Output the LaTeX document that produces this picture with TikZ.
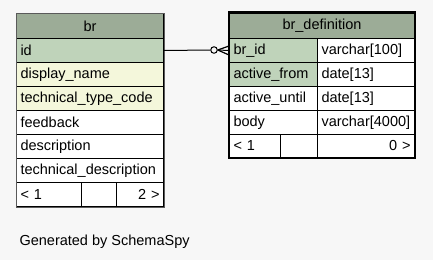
\documentclass[tikz,border=0pt]{standalone}
\usepackage{fontspec}
\setmainfont{Liberation Sans}
\usetikzlibrary{positioning}

\definecolor{bgcol}{HTML}{F7F7F7}
\definecolor{headcol}{HTML}{9CAC97}
\definecolor{keycol}{HTML}{BFD3BA}
\definecolor{idxcol}{HTML}{F4F7DB}
\definecolor{edgecol}{HTML}{5A5A5A}

\tikzset{
  cell/.style={draw=black, line width=1pt, fill=white, anchor=north west,
    inner xsep=4pt, inner ysep=0pt, minimum height=24pt, align=left,
    font=\fontsize{14.5}{16}\selectfont},
  head/.style={cell, fill=headcol, align=center},
  key/.style={cell, fill=keycol},
  idx/.style={cell, fill=idxcol},
}

\begin{document}
\begin{tikzpicture}[x=1pt,y=-1pt]
\fill[bgcol] (0,0) rectangle (433,260);

% table br
\node[head, text width=139pt, minimum height=25pt] (br) at (16,13) {br};
\node[key, text width=139pt] (id) at (16,38) {id};
\node[idx, text width=139pt] (dname) at (16,62) {display\_name};
\node[idx, text width=139pt] (ttcode) at (16,86) {technical\_type\_code};
\node[cell, text width=139pt] (feedback) at (16,110) {feedback};
\node[cell, text width=139pt] (desc) at (16,134) {description};
\node[cell, text width=139pt] (tdesc) at (16,158) {technical\_description};
\node[cell, text width=57pt] (brprev) at (16,182) {< 1};
\node[cell, text width=27pt] (brmid) at (81,182) {};
\node[cell, text width=39pt, align=right] (brnext) at (116,182) {2 >};
\draw[edgecol, line width=1pt] (br.north west) rectangle (brnext.south east);

% table br_definition
\node[head, text width=177pt, minimum height=25.5pt] (brdef) at (229,12.5) {br\_definition};
\node[key, text width=80pt] (brid) at (229,38) {br\_id};
\node[cell, text width=89pt] (bridt) at (317,38) {varchar[100]};
\node[key, text width=80pt] (afrom) at (229,62) {active\_from};
\node[cell, text width=89pt] (afromt) at (317,62) {date[13]};
\node[cell, text width=80pt] (auntil) at (229,86) {active\_until};
\node[cell, text width=89pt] (auntilt) at (317,86) {date[13]};
\node[cell, text width=80pt] (body) at (229,110) {body};
\node[cell, text width=89pt] (bodyt) at (317,110) {varchar[4000]};
\node[cell, text width=43pt, minimum height=23pt] (defprev) at (229,134) {< 1};
\node[cell, text width=29pt, minimum height=23pt] (defmid) at (280,134) {};
\node[cell, text width=89pt, minimum height=23pt, align=right] (defnext) at (317,134) {0 >};
\draw[black, line width=2.5pt] (brdef.north west) rectangle (defnext.south east);

% br.id -> br_definition.br_id, zero or many
\node[circle, draw, line width=1pt, fill=bgcol, minimum size=6.5pt, inner sep=0pt] (ring) at (214,50) {};
\draw[line width=1pt] (id.east) -- (ring.west);
\draw[line width=1pt] (ring.east) -- (brid.west);
\draw[line width=1.2pt] (ring.east) -- ([yshift=4.5pt]brid.west);
\draw[line width=1.2pt] (ring.east) -- ([yshift=-4.5pt]brid.west);

\node[anchor=base west, font=\fontsize{14.5}{16}\selectfont] (gen) at (16,245) {Generated by SchemaSpy};
\end{tikzpicture}
\end{document}
